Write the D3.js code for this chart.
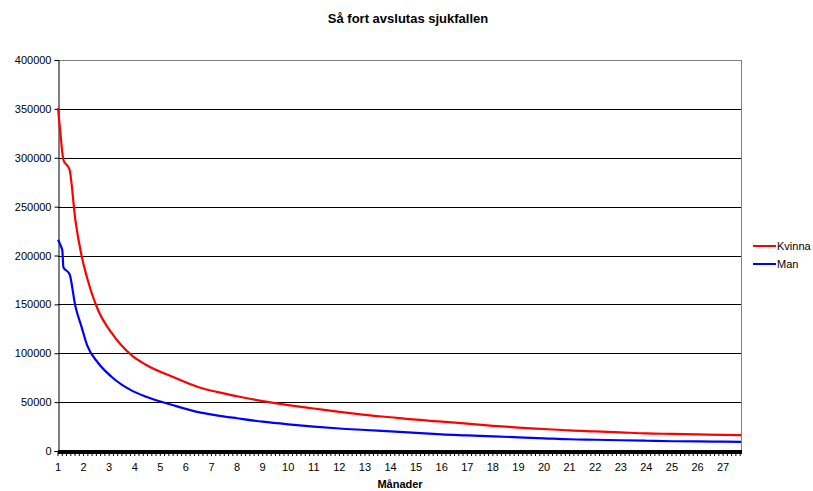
<!DOCTYPE html>
<html>
<head>
<meta charset="utf-8">
<script src="https://cdn.jsdelivr.net/npm/d3@7"></script>
<style>
  body { margin: 0; background: #fff; }
  text { font-family: "Liberation Sans", Arial, sans-serif; }
</style>
</head>
<body>
<script>
// months since start of sick leave
var months = [1, 1.12, 1.17, 1.21, 1.45, 1.68, 1.92, 2.14, 2.57, 3.09, 3.87, 4.45, 5.47, 6.53,
              7.2, 8, 9, 10, 11, 12, 13, 14, 15, 16, 17, 18, 19, 20, 21, 22, 23, 24, 25, 26, 27, 27.7];
var kvinna = [351000, 318000, 305000, 298000, 288000, 236000, 200000, 177000, 144000, 121000, 98000, 88000, 76000, 65000,
              60500, 56000, 51000, 47000, 43500, 40000, 37000, 34500, 32000, 30000, 28000, 25800, 24000, 22500, 21000, 20000, 19000, 18000, 17500, 17000, 16500, 16200];
var man = [216000, 209000, 205000, 188000, 181000, 148000, 127000, 108000, 90000, 76000, 62000, 55500, 47000, 39500,
           36500, 33500, 30000, 27300, 25000, 23000, 21500, 20000, 18500, 17000, 16000, 15000, 14000, 13000, 12000, 11500, 11000, 10500, 10000, 9800, 9500, 9300];
var monthTicks = d3.range(1, 28);
var yTicks = d3.range(0, 400001, 50000);

var series = [
    { name: "Kvinna", color: "#ff0000", values: kvinna },
    { name: "Man", color: "#0000ff", values: man }
];

var width = 813, height = 491;
var plot = { left: 58, right: 741, top: 60, bottom: 451 };

var svg = d3.select("body").append("svg")
            .attr("width", width)
            .attr("height", height);

var x = d3.scaleLinear().domain([1, 27.7]).range([plot.left, plot.right]);
var y = d3.scaleLinear().domain([0, 400000]).range([plot.bottom, plot.top]);

// gridlines
svg.append("g")
   .selectAll("line")
   .data(yTicks.filter(function(d) { return d > 0; }))
   .enter()
     .append("line")
     .attr("x1", plot.left)
     .attr("x2", plot.right)
     .attr("y1", function(d) { return Math.round(y(d)) + 0.5; })
     .attr("y2", function(d) { return Math.round(y(d)) + 0.5; })
     .attr("stroke", function(d) { return d == 400000 ? "#808080" : "#000"; })
     .attr("stroke-width", 1);

// right border
svg.append("line")
   .attr("x1", plot.right + 0.5).attr("x2", plot.right + 0.5)
   .attr("y1", plot.top).attr("y2", plot.bottom)
   .attr("stroke", "#808080");

// y axis
var yAxis = svg.append("g")
   .attr("transform", "translate(" + (plot.left + 0.5) + ",0)")
   .call(d3.axisLeft(y).tickValues(yTicks).tickSize(4).tickPadding(3).tickFormat(d3.format("d")));
yAxis.select(".domain").attr("stroke", "#000");
yAxis.selectAll("text").style("font-size", "11px").attr("fill", "#000")
     .style("font-family", "'Liberation Sans', Arial, sans-serif");

// x axis: minor ticks (dense), month labels
var minor = d3.range(1, 27.7, 1 / 6);
svg.append("g")
   .selectAll("line")
   .data(minor)
   .enter()
     .append("line")
     .attr("x1", function(d) { return x(d); })
     .attr("x2", function(d) { return x(d); })
     .attr("y1", plot.bottom)
     .attr("y2", plot.bottom + 5)
     .attr("stroke", "#000")
     .attr("stroke-width", 1);
svg.append("line")
   .attr("x1", plot.left).attr("x2", plot.right + 1)
   .attr("y1", plot.bottom + 1).attr("y2", plot.bottom + 1)
   .attr("stroke", "#000")
   .attr("stroke-width", 4);

svg.append("g")
   .selectAll("text")
   .data(monthTicks)
   .enter()
     .append("text")
     .attr("x", function(d) { return x(d); })
     .attr("y", 471)
     .attr("text-anchor", "middle")
     .style("font-size", "11px")
     .text(function(d) { return d; });

// lines
var line = d3.line()
    .x(function(d, i) { return x(months[i]); })
    .y(function(d) { return y(d); })
    .curve(d3.curveMonotoneX);

svg.append("g")
   .selectAll("path")
   .data(series)
   .enter()
     .append("path")
     .attr("d", function(d) { return line(d.values); })
     .attr("fill", "none")
     .attr("stroke", function(d) { return d.color; })
     .attr("stroke-width", 2.2);

// title & axis title
svg.append("text")
   .attr("x", 408).attr("y", 23)
   .attr("text-anchor", "middle")
   .style("font-size", "13px").style("font-weight", "bold")
   .text("Så fort avslutas sjukfallen");
svg.append("text")
   .attr("x", 400).attr("y", 488)
   .attr("text-anchor", "middle")
   .style("font-size", "11px").style("font-weight", "bold")
   .text("Månader");

// legend
var legend = svg.append("g")
   .selectAll("g")
   .data(series)
   .enter()
     .append("g")
     .attr("transform", function(d, i) { return "translate(753," + (246 + i * 18) + ")"; });
legend.append("line")
   .attr("x1", 0).attr("x2", 23)
   .attr("stroke", function(d) { return d.color; })
   .attr("stroke-width", 2);
legend.append("text")
   .attr("x", 24).attr("y", 4)
   .style("font-size", "11px")
   .text(function(d) { return d.name; });
</script>
</body>
</html>
